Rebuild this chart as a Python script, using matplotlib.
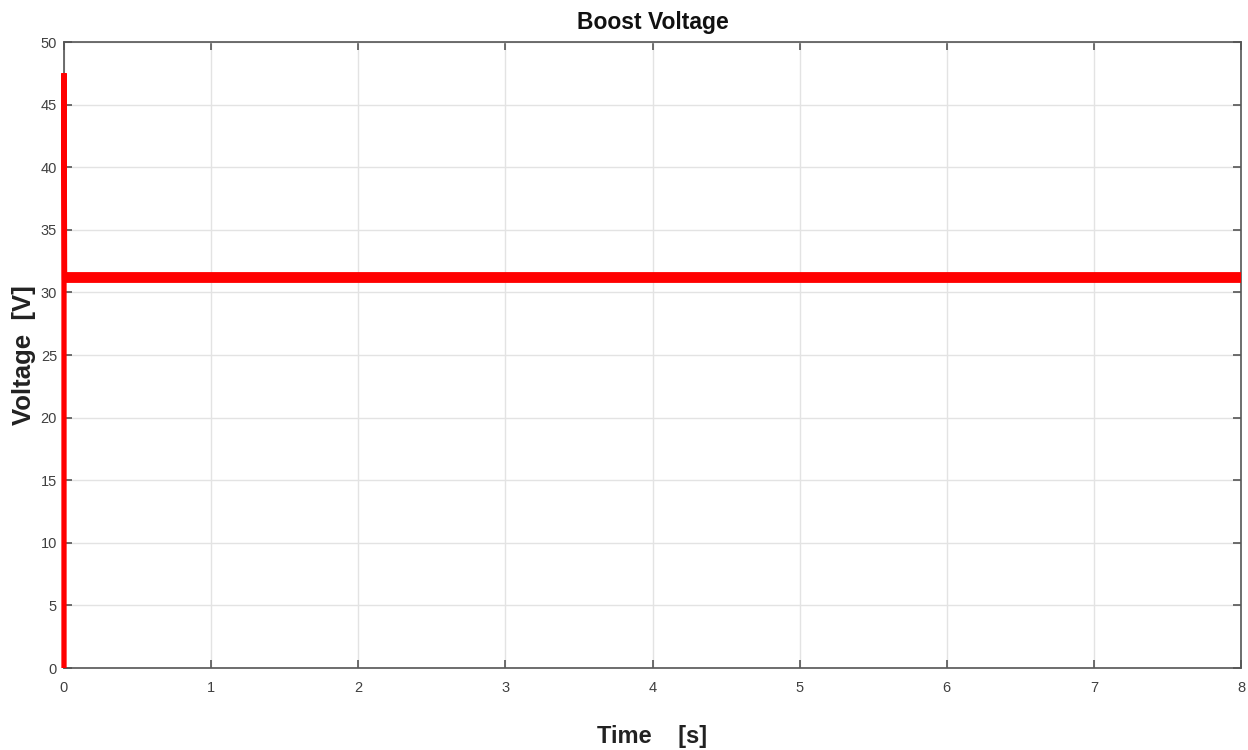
import matplotlib
matplotlib.use("Agg")
import matplotlib.pyplot as plt

plt.rcParams['font.family'] = ['Liberation Sans', 'DejaVu Sans']

# Data
time_s = [0.0, 0.0, 0.004, 0.012, 8.0]
voltage_v = [0.0, 47.5, 31.2, 31.2, 31.2]
xticks = [0, 1, 2, 3, 4, 5, 6, 7, 8]
yticks = [0, 5, 10, 15, 20, 25, 30, 35, 40, 45, 50]

fig = plt.figure(figsize=(12.48, 7.5), dpi=100)
ax = fig.add_axes([64/1248, 1 - 668/750, (1241-64)/1248, (668-42)/750])

# transient spike
ax.plot(time_s[:4], voltage_v[:4], color='#ff0000', lw=3.8, solid_capstyle='butt',
        solid_joinstyle='miter', zorder=3, clip_on=False)
# steady-state band (noisy ripple drawn as thick line)
ax.plot(time_s[2:], voltage_v[2:], color='#ff0000', lw=7.8, solid_capstyle='butt', zorder=3)

ax.set_xlim(0, 8)
ax.set_ylim(0, 50)
ax.set_xticks(xticks)
ax.set_yticks(yticks)
ax.grid(True, color='#e3e3e3', lw=1)
ax.set_axisbelow(True)
ax.tick_params(direction='in', length=6, width=1.2, colors='#555555', labelsize=10.5,
               top=True, right=True, labelcolor='#404040')
ax.tick_params(axis='x', pad=9)
ax.tick_params(axis='y', pad=5)
for s in ax.spines.values():
    s.set_color('#555555')
    s.set_linewidth(1.2)

ax.set_title('Boost Voltage', fontsize=16.5, fontweight='bold', pad=9, color='#111111')
ax.set_xlabel('Time    [s]', fontsize=17, fontweight='bold', labelpad=22, color='#222222')
ax.set_ylabel('Voltage  [V]', fontsize=18.5, fontweight='bold', color='#222222')
ax.yaxis.set_label_coords(-0.0235, 0.5)

fig.savefig('out.png', dpi=100, facecolor='white')
